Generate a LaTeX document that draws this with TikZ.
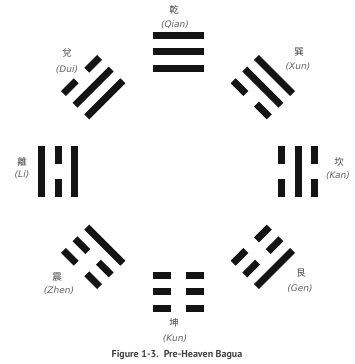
\documentclass[tikz,border=0pt]{standalone}
\usepackage{fontspec}
\setmainfont{PT Sans}
\newfontfamily\cjkfont{Noto Sans CJK TC}
\newfontfamily\pyfont{DejaVu Sans}
\newcommand{\trigram}[5]{% name, angle, bottom, middle, top
  \begin{scope}[shift={(C)}, rotate=#2]
    \foreach \k/\b in {1/#3,2/#4,3/#5}{
      \pgfmathsetmacro{\xx}{120+(\k-2)*16.5}
      \ifnum\b=1
        \draw[yaoline] (\xx pt,-25.5pt) -- (\xx pt,25.5pt);
      \else
        \draw[yaoline] (\xx pt,-25.5pt) -- (\xx pt,-7.5pt);
        \draw[yaoline] (\xx pt,7.5pt) -- (\xx pt,25.5pt);
      \fi
    }
  \end{scope}}
\begin{document}
\begin{tikzpicture}[x=1pt,y=1pt,
  yaoline/.style={line width=7pt, black!92},
  hanzi/.style={font=\cjkfont\fontsize{9.5}{9.5}\selectfont, text=black!72, inner sep=0pt},
  pinyin/.style={font=\pyfont\itshape\fontsize{9}{9}\selectfont, text=black!62, inner sep=0pt},
  caption/.style={font=\bfseries\fontsize{10}{10}\selectfont, text=black!75, inner sep=0pt}]
\useasboundingbox[fill=white] (0,0) rectangle (354,364);
\coordinate (C) at (178,192);
\trigram{qian}{90}{1}{1}{1}
\trigram{xun}{45}{0}{1}{1}
\trigram{kan}{0}{0}{1}{0}
\trigram{gen}{-45}{0}{0}{1}
\trigram{kun}{-90}{0}{0}{0}
\trigram{zhen}{-135}{1}{0}{0}
\trigram{li}{180}{1}{0}{1}
\trigram{dui}{135}{1}{1}{0}
\node[hanzi] (hqian) at (174,354) {乾};
\node[pinyin] (pqian) at (175,339) {(Qian)};
\node[hanzi] (hxun) at (299,312) {巽};
\node[pinyin] (pxun) at (298,297) {(Xun)};
\node[hanzi] (hdui) at (67,311) {兌};
\node[pinyin] (pdui) at (67,294) {(Dui)};
\node[hanzi] (hli) at (22,202) {離};
\node[pinyin] (pli) at (22,189) {(Li)};
\node[hanzi] (hkan) at (339,202) {坎};
\node[pinyin] (pkan) at (338,188) {(Kan)};
\node[hanzi] (hzhen) at (57,87) {震};
\node[pinyin] (pzhen) at (59,73) {(Zhen)};
\node[hanzi] (hgen) at (301,91) {艮};
\node[pinyin] (pgen) at (300,75) {(Gen)};
\node[hanzi] (hkun) at (174,41) {坤};
\node[pinyin] (pkun) at (175,25) {(Kun)};
\node[caption] (cap) at (177,9) {Figure 1-3.\ \ Pre-Heaven Bagua};
\end{tikzpicture}
\end{document}
